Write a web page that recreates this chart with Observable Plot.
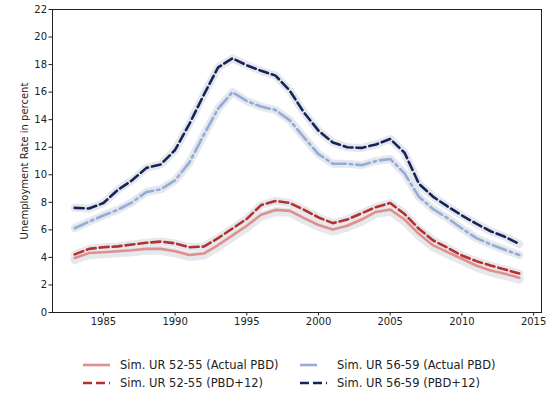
<!DOCTYPE html>
<html>
<head>
<meta charset="utf-8">
<script src="https://cdn.jsdelivr.net/npm/d3@7"></script>
<script src="https://cdn.jsdelivr.net/npm/@observablehq/plot@0.6"></script>
<style>
  body { margin: 0; background: #fff; font-family: "DejaVu Sans", sans-serif; }
  #chart { position: relative; width: 550px; }
  #legend { position: relative; width: 550px; height: 63px; font-size: 11.5px; color: #222; }
  .item { position: absolute; display: flex; align-items: center; white-space: nowrap; }
  .item svg { margin-right: 10px; }
</style>
</head>
<body>
<div id="chart"></div>
<div id="legend"></div>
<script>
// Simulated unemployment rates (percent) by age group, 1983–2014
const years = [1983, 1984, 1985, 1986, 1987, 1988, 1989, 1990, 1991, 1992, 1993, 1994, 1995, 1996, 1997, 1998,
               1999, 2000, 2001, 2002, 2003, 2004, 2005, 2006, 2007, 2008, 2009, 2010, 2011, 2012, 2013, 2014];

const ur5255Actual = [3.95, 4.32, 4.38, 4.45, 4.52, 4.62, 4.62, 4.45, 4.17, 4.28, 4.9, 5.6, 6.3, 7.1, 7.45, 7.38,
                      6.85, 6.35, 6.02, 6.3, 6.75, 7.3, 7.48, 6.75, 5.71, 4.87, 4.38, 3.9, 3.41, 3.05, 2.81, 2.52];
const ur5255Plus12 = [4.22, 4.62, 4.74, 4.8, 4.94, 5.06, 5.15, 5.02, 4.74, 4.79, 5.4, 6.1, 6.8, 7.8, 8.1, 7.95,
                      7.45, 6.9, 6.49, 6.75, 7.2, 7.65, 7.95, 7.15, 6.08, 5.23, 4.7, 4.14, 3.73, 3.41, 3.12, 2.83];
const ur5659Actual = [6.12, 6.6, 7.04, 7.46, 8.0, 8.75, 8.95, 9.6, 10.9, 12.9, 14.8, 16.0, 15.35, 14.95, 14.7, 13.95,
                      12.7, 11.5, 10.8, 10.8, 10.7, 11.0, 11.15, 10.1, 8.4, 7.5, 6.85, 6.1, 5.4, 4.95, 4.55, 4.17];
const ur5659Plus12 = [7.6, 7.55, 7.95, 8.9, 9.6, 10.5, 10.75, 11.8, 13.7, 15.8, 17.8, 18.45, 17.95, 17.55, 17.2, 16.1,
                      14.5, 13.2, 12.35, 12.0, 11.95, 12.2, 12.6, 11.6, 9.35, 8.4, 7.7, 7.05, 6.45, 5.9, 5.5, 4.97];

const seriesNames = ["Sim. UR 52-55 (Actual PBD)", "Sim. UR 52-55 (PBD+12)",
                     "Sim. UR 56-59 (Actual PBD)", "Sim. UR 56-59 (PBD+12)"];
const xTicks = [1985, 1990, 1995, 2000, 2005, 2010, 2015];
const yTicks = [0, 2, 4, 6, 8, 10, 12, 14, 16, 18, 20, 22];

// line styling per series (legend handles get their own dash where the line pattern is long)
const styles = [
  {values: ur5255Actual, stroke: "#e0908c", dash: null, legendDash: null},
  {values: ur5255Plus12, stroke: "#b5302e", dash: "9,4", legendDash: "9,4"},
  {values: ur5659Actual, stroke: "#95abd9", dash: "14,4,2.5,4", legendDash: "17,20"},
  {values: ur5659Plus12, stroke: "#17245a", dash: "9,4", legendDash: "9,4"}
];

const rows = s => years.map((year, i) => ({year, value: s.values[i]}));

// soft grey bands under each simulated series
const halos = styles.map((s, k) => Plot.lineY(rows(s), {
  x: "year", y: "value", stroke: "#e5e8ec", strokeWidth: k === 0 ? 9 : 8,
  dy: k === 0 ? 1.5 : 0, strokeLinejoin: "round", strokeLinecap: "round"
}));

const lines = styles.map(s => Plot.lineY(rows(s), {
  x: "year", y: "value", stroke: s.stroke, strokeWidth: 2.6,
  strokeDasharray: s.dash, strokeLinejoin: "round"
}));

const chart = Plot.plot({
  width: 550,
  height: 330,
  marginLeft: 52,
  marginRight: 9,
  marginTop: 9,
  marginBottom: 18,
  style: {fontFamily: "DejaVu Sans, sans-serif", fontSize: "10px", color: "#222", background: "#fff"},
  x: {domain: [1981.45, 2015.55]},
  y: {domain: [0, 22]},
  marks: [
    ...halos,
    ...lines,
    Plot.axisX({ticks: xTicks, tickFormat: d => String(d), tickSize: 3.5, tickPadding: 2, label: null}),
    Plot.axisY({ticks: yTicks, tickSize: 3.5, tickPadding: 2, label: "Unemployment Rate in percent",
                labelAnchor: "center", labelArrow: "none", labelOffset: 32}),
    Plot.frame({stroke: "#222", strokeWidth: 1})
  ]
});
document.getElementById("chart").append(chart);

// legend below the plot, two columns
const legend = document.getElementById("legend");
const positions = [[83, 35], [83, 53], [300, 35], [300, 53]];
styles.forEach((s, k) => {
  const item = document.createElement("div");
  item.className = "item";
  item.style.left = positions[k][0] + "px";
  item.style.top = (positions[k][1] - 8) + "px";
  const w = 27;
  item.innerHTML =
    `<svg width="${w}" height="16"><line x1="0" x2="${w}" y1="8" y2="8" stroke="${s.stroke}" stroke-width="2.6"` +
    (s.legendDash ? ` stroke-dasharray="${s.legendDash}"` : "") + `/></svg><span>${seriesNames[k]}</span>`;
  legend.append(item);
});
</script>
</body>
</html>
